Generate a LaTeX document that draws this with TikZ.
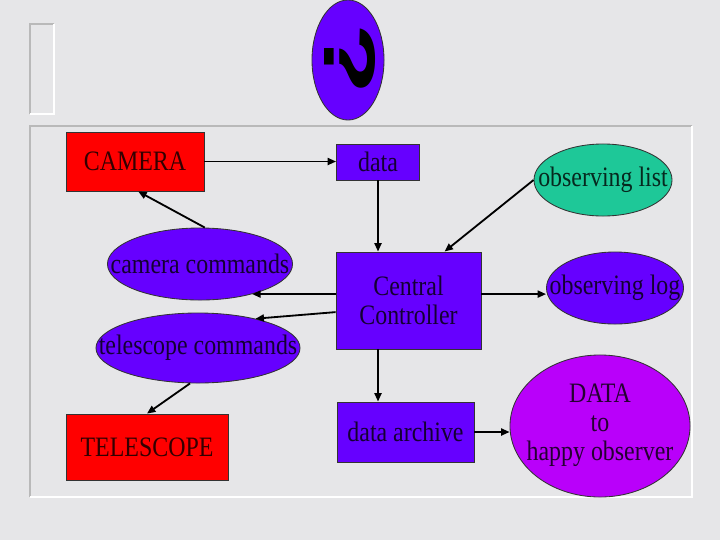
\documentclass[tikz,border=0pt]{standalone}
\usepackage{fontspec}
\setmainfont{Liberation Serif}[FakeStretch=0.85]
\setsansfont{Liberation Sans}
\usetikzlibrary{shapes.geometric,arrows.meta}
\definecolor{marble}{RGB}{230,230,232}
\definecolor{boxblue}{RGB}{102,0,255}
\definecolor{boxred}{RGB}{255,0,0}
\definecolor{listgreen}{RGB}{30,200,152}
\definecolor{happyviolet}{RGB}{185,0,250}
\newcommand{\nowidth}[1]{\makebox[0pt]{#1}}

\begin{document}
\begin{tikzpicture}[
x=0.025cm, y=-0.025cm,
box/.style={
	draw=black!80, line width=0.6pt,
	inner sep=0pt, text=black, text opacity=0.8,
	font=\fontsize{20}{20.5}\selectfont
},
redbox/.style={box, rectangle, fill=boxred},
bluebox/.style={box, rectangle, fill=boxblue},
oval/.style={box, ellipse, fill=boxblue},
link/.style={->, line width=1.3pt},
>={Triangle[length=6pt,width=5pt]}
]
\fill[marble] (0,0) rectangle (720,540);
\useasboundingbox (0,0) rectangle (720,540);
% frames
\draw[gray!55, line width=1.5pt] (30,114) -- (30,24) -- (54,24);
\draw[white, line width=1.5pt] (54,24) -- (54,114) -- (30,114);
\draw[gray!55, line width=1.5pt] (30,497) -- (30,126) -- (692,126);
\draw[white, line width=1.5pt] (692,126) -- (692,497) -- (30,497);
% question mark
\node[oval, minimum width=1.8cm, minimum height=3cm] (qmark) at (348,60) {};
\node[rotate=-90, inner sep=0pt, font=\fontsize{52}{52}\bfseries\sffamily] (glyph) at (350,59) {\scalebox{1.6}[1]{?}};
% boxes
\node[redbox, minimum width=3.45cm, minimum height=1.475cm] (camera) at (135,161.5) {CAMERA};
\node[bluebox, minimum width=2.075cm, minimum height=0.9cm] (data) at (378,162) {data};
\node[bluebox, minimum width=3.625cm, minimum height=2.425cm, align=center] (ctrl) at (408.5,300.5) {Central\\Controller};
\node[bluebox, minimum width=3.425cm, minimum height=1.5cm] (archive) at (405.5,432) {data archive};
\node[redbox, minimum width=4.05cm, minimum height=1.65cm] (telescope) at (147,447) {TELESCOPE};
% ovals
\node[oval, minimum width=4.625cm, minimum height=1.8cm] (camcmd) at (200,264) {\nowidth{camera commands}};
\node[oval, minimum width=5.1cm, minimum height=1.75cm] (telcmd) at (198,348) {\nowidth{telescope commands}};
\node[oval, fill=listgreen, minimum width=3.45cm, minimum height=1.8cm] (obslist) at (603,180) {\nowidth{observing list}};
\node[oval, minimum width=3.425cm, minimum height=1.8cm] (obslog) at (615,288) {\nowidth{observing log}};
\node[oval, fill=happyviolet, minimum width=4.5cm, minimum height=3.55cm] (happy) at (600,426)
	{\nowidth{\begin{tabular}{@{}c@{}}DATA\\to\\happy observer\end{tabular}}};
% arrows
\draw[link] (camera.east) -- (camera.east -| data.west);
\draw[link] ([xshift=0.12cm]camcmd.north) -- ([xshift=0.08cm]camera.south);
\draw[link] (data.south) -- (data.south |- ctrl.north);
\draw[link] (obslist.west) -- ([xshift=0.9cm]ctrl.north);
\draw[link] ([yshift=0.16cm]ctrl.west) -- ([yshift=0.16cm]ctrl.west -| camcmd.-30);
\draw[link] ([yshift=-0.29cm]ctrl.west) -- (telcmd.27);
\draw[link] ([yshift=0.16cm]ctrl.east) -- ([yshift=0.16cm]ctrl.east -| obslog.west);
\draw[link] (ctrl.south -| data.south) -- (archive.north -| data.south);
\draw[link] ([xshift=-0.2cm]telcmd.south) -- (telescope.north);
\draw[link] (archive.east) -- (archive.east -| happy.west);
\end{tikzpicture}
\end{document}
